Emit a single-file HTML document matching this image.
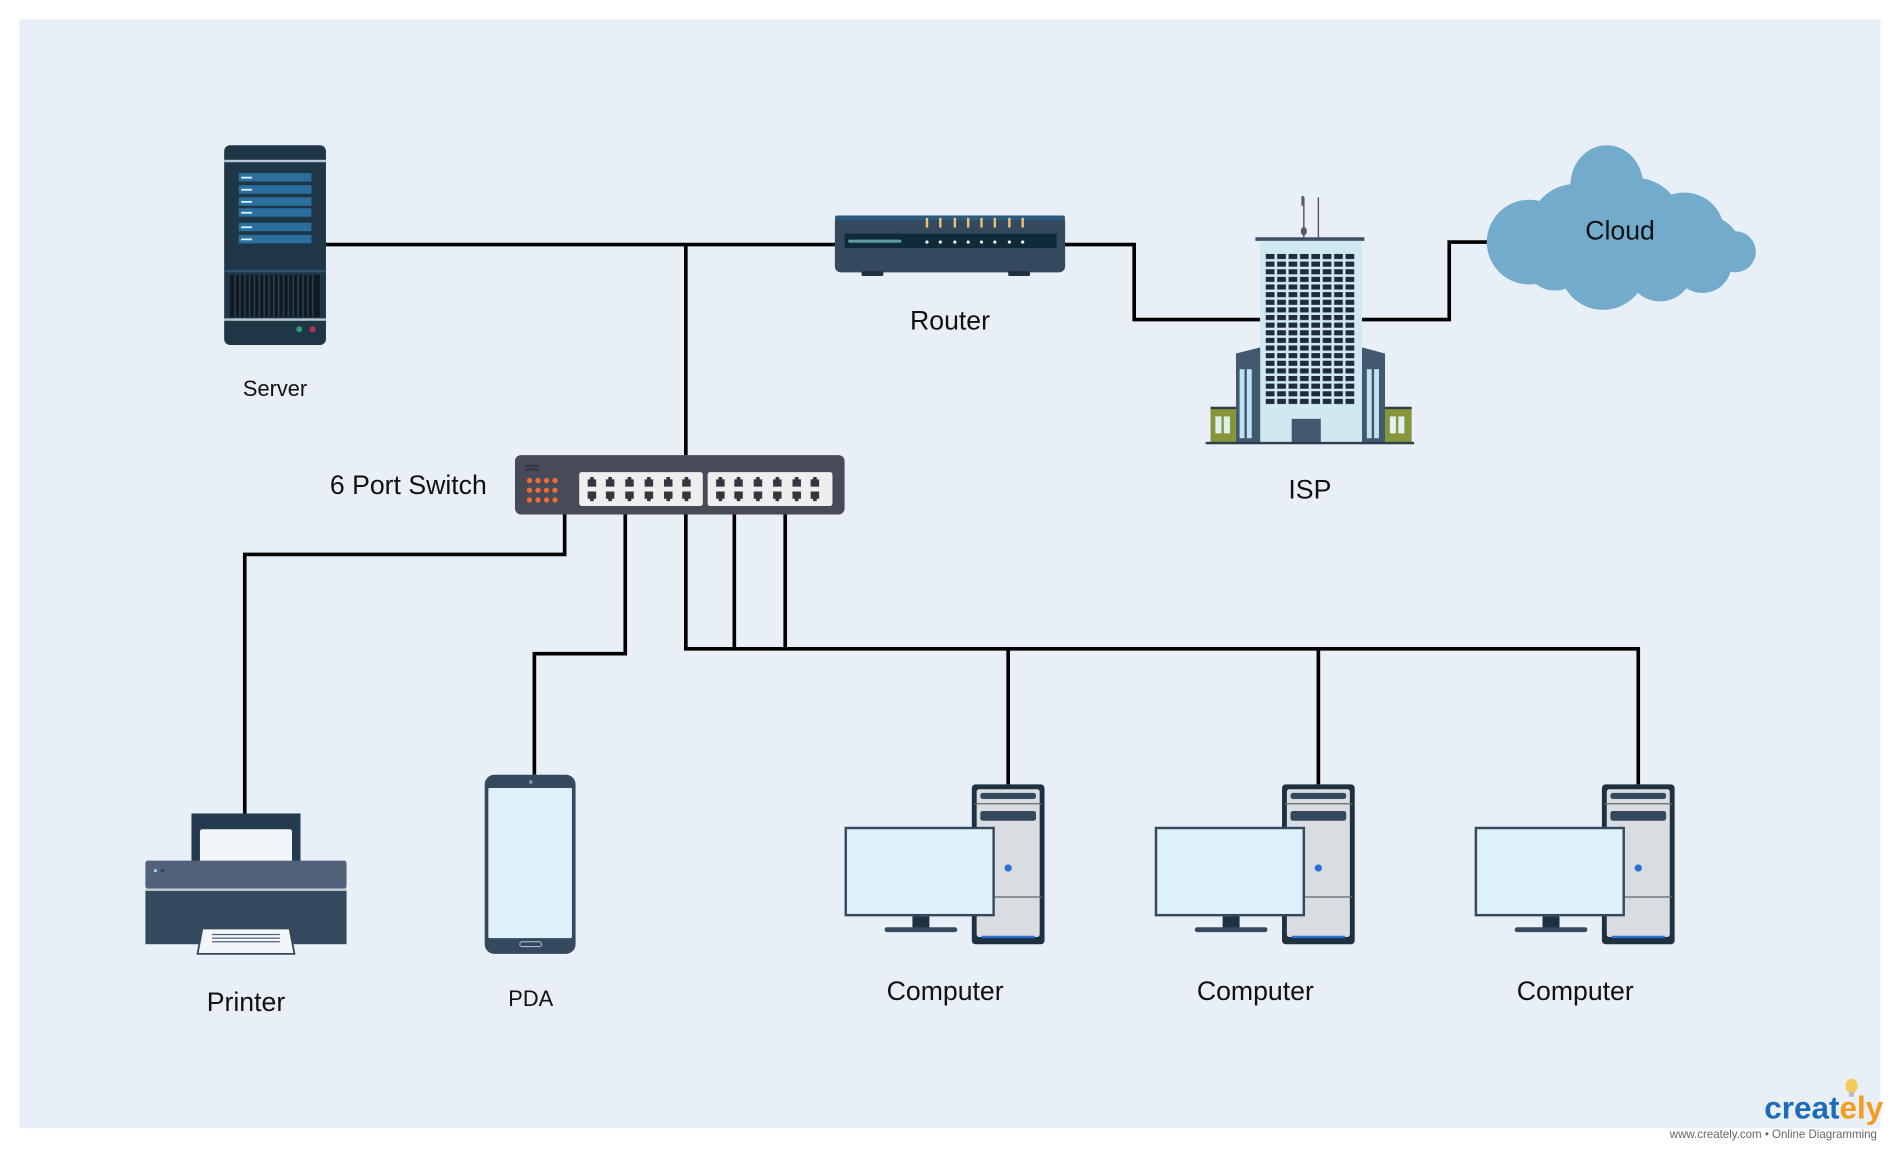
<!DOCTYPE html>
<html><head><meta charset="utf-8"><style>
html,body{margin:0;padding:0;background:#fff;width:1900px;height:1150px;overflow:hidden}
svg{display:block}
text{font-family:"Liberation Sans",sans-serif;fill:#111}
</style></head><body>
<svg width="1900" height="1150" viewBox="0 0 1568 950" preserveAspectRatio="none" xmlns="http://www.w3.org/2000/svg">
<defs>
<pattern id="win" x="1044" y="209" width="9.4" height="6.3" patternUnits="userSpaceOnUse">
<rect x="0.6" y="0.8" width="7.2" height="4.2" fill="#1f2a3a"/>
</pattern>
<g id="pc">
  <rect x="802" y="648" width="60" height="132" rx="3" fill="#1f3040"/>
  <rect x="806" y="652" width="52" height="122" rx="2" fill="#d9dde1"/>
  <rect x="809" y="655" width="46" height="5" rx="2" fill="#34495e"/>
  <line x1="804" y1="664" x2="860" y2="664" stroke="#5a6b6b" stroke-width="1"/>
  <rect x="809" y="670" width="46" height="8" rx="2" fill="#34495e"/>
  <line x1="804" y1="741" x2="860" y2="741" stroke="#5a6b6b" stroke-width="1"/>
  <circle cx="832" cy="717" r="3" fill="#2a6fd6"/>
  <rect x="810" y="773" width="44" height="2" fill="#2a6fd6"/>
  <rect x="697" y="683" width="124" height="74" fill="#34495e"/>
  <rect x="699" y="685" width="120" height="70" fill="#dff0f8"/>
  <rect x="753" y="757" width="14" height="10" fill="#1f3040"/>
  <rect x="730" y="766" width="60" height="4" rx="2" fill="#34495e"/>
</g>
</defs>
<rect x="16" y="16" width="1536" height="916" fill="#e8eff7"/>

<g stroke="#000" stroke-width="3" fill="none">
<polyline points="268,202 690,202"/>
<polyline points="566,202 566,376"/>
<polyline points="878,202 936,202 936,264 1040,264"/>
<polyline points="1124,264 1196,264 1196,200 1228,200"/>
<polyline points="466,425 466,458 202,458 202,672"/>
<polyline points="516,425 516,540 441,540 441,640"/>
<polyline points="566,425 566,536 1352,536 1352,648"/>
<polyline points="606,425 606,536"/>
<polyline points="648,425 648,536"/>
<polyline points="832,536 832,648"/>
<polyline points="1088,536 1088,648"/>
</g>

<rect x="185" y="120" width="84" height="165" rx="5" fill="#1f3646"/>
<rect x="185" y="132" width="84" height="2" fill="#b9c8d4"/>
<g fill="#2a6f9e">
<rect x="197" y="143" width="60" height="7"/><rect x="197" y="153" width="60" height="7"/>
<rect x="197" y="163" width="60" height="7"/><rect x="197" y="172" width="60" height="7"/>
<rect x="197" y="184" width="60" height="7"/><rect x="197" y="194" width="60" height="7"/>
</g>
<g fill="#ddeeff">
<rect x="199" y="146" width="9" height="1.5"/><rect x="199" y="156" width="9" height="1.5"/>
<rect x="199" y="166" width="9" height="1.5"/><rect x="199" y="175" width="9" height="1.5"/>
<rect x="199" y="187" width="9" height="1.5"/><rect x="199" y="197" width="9" height="1.5"/>
</g>
<rect x="185" y="223" width="84" height="2" fill="#2a5470"/>
<rect x="190" y="227" width="74" height="35" fill="#0f1a22"/>
<g stroke="#2c3e50" stroke-width="1.3">
<path d="M194,227v35M198,227v35M202,227v35M206,227v35M210,227v35M214,227v35M218,227v35M222,227v35M226,227v35M230,227v35M234,227v35M238,227v35M242,227v35M246,227v35M250,227v35M254,227v35M258,227v35"/>
</g>
<rect x="185" y="263" width="84" height="2" fill="#b9c8d4"/>
<circle cx="247" cy="272" r="2.5" fill="#2e9e6a"/><circle cx="258" cy="272" r="2.5" fill="#b8324e"/>
<text x="227" y="327" font-size="18" text-anchor="middle">Server</text>

<rect x="689" y="178" width="190" height="47" rx="5" fill="#34495e"/>
<rect x="689" y="178" width="190" height="4" rx="2" fill="#2a5a80"/>
<rect x="697" y="193" width="175" height="12" fill="#0f2a38"/>
<rect x="700" y="198" width="44" height="2.5" rx="1" fill="#5e9aa6"/>
<g fill="#fff"><circle cx="765" cy="200" r="1.3"/><circle cx="776" cy="200" r="1.3"/><circle cx="788" cy="200" r="1.3"/><circle cx="799" cy="200" r="1.3"/><circle cx="810" cy="200" r="1.3"/><circle cx="821" cy="200" r="1.3"/><circle cx="833" cy="200" r="1.3"/><circle cx="844" cy="200" r="1.3"/></g>
<g fill="#f0c07a"><rect x="764" y="180" width="2" height="8"/><rect x="775" y="180" width="2" height="8"/><rect x="787" y="180" width="2" height="8"/><rect x="798" y="180" width="2" height="8"/><rect x="809" y="180" width="2" height="8"/><rect x="820" y="180" width="2" height="8"/><rect x="832" y="180" width="2" height="8"/><rect x="843" y="180" width="2" height="8"/></g>
<rect x="711" y="224" width="18" height="4" rx="1" fill="#1f3040"/><rect x="832" y="224" width="18" height="4" rx="1" fill="#1f3040"/>
<text x="784" y="272" font-size="22" text-anchor="middle">Router</text>

<line x1="1076" y1="163" x2="1076" y2="198" stroke="#555a66" stroke-width="1.2"/>
<line x1="1088" y1="163" x2="1088" y2="198" stroke="#555a66" stroke-width="1.2"/>
<ellipse cx="1076" cy="191" rx="2.5" ry="3.5" fill="#555a66"/>
<rect x="1074" y="162" width="2" height="8" fill="#555a66"/>
<rect x="1036" y="196" width="90" height="3" fill="#3f5068"/>
<rect x="1040" y="199" width="84" height="167" fill="#cfe9f0"/>
<rect x="1044" y="209" width="75" height="126" fill="url(#win)"/>
<rect x="1066" y="346" width="24" height="20" fill="#43596f"/>
<polygon points="1020,292 1040,287 1040,366 1020,366" fill="#43596f"/>
<polygon points="1124,287 1143,292 1143,366 1124,366" fill="#43596f"/>
<rect x="1023" y="305" width="4" height="57" fill="#bfe4f4"/><rect x="1029" y="305" width="4" height="57" fill="#bfe4f4"/>
<rect x="1128" y="305" width="4" height="57" fill="#bfe4f4"/><rect x="1134" y="305" width="4" height="57" fill="#bfe4f4"/>
<rect x="999" y="337" width="21" height="29" fill="#87963a"/><rect x="1143" y="337" width="22" height="29" fill="#87963a"/>
<rect x="999" y="336" width="21" height="2" fill="#2c3e50"/><rect x="1143" y="336" width="22" height="2" fill="#2c3e50"/>
<rect x="1003" y="344" width="5" height="14" fill="#dff0f0"/><rect x="1010" y="344" width="5" height="14" fill="#dff0f0"/>
<rect x="1147" y="344" width="5" height="14" fill="#dff0f0"/><rect x="1154" y="344" width="5" height="14" fill="#dff0f0"/>
<rect x="995" y="365" width="172" height="2" fill="#2c3e50"/>
<text x="1081" y="412" font-size="22" text-anchor="middle">ISP</text>

<g fill="#73abcc">
<ellipse cx="1326" cy="153" rx="30" ry="33"/>
<circle cx="1300" cy="190" r="38"/>
<circle cx="1350" cy="185" r="38"/>
<circle cx="1390" cy="192" r="33"/>
<circle cx="1410" cy="205" r="26"/>
<circle cx="1432" cy="208" r="17"/>
<circle cx="1262" cy="200" r="35"/>
<circle cx="1283" cy="215" r="25"/>
<circle cx="1323" cy="220" r="36"/>
<circle cx="1370" cy="222" r="27"/>
<circle cx="1405" cy="218" r="24"/>
</g>
<text x="1337" y="198" font-size="22" text-anchor="middle">Cloud</text>

<rect x="425" y="376" width="272" height="49" rx="5" fill="#474a57"/>
<rect x="433" y="384" width="12" height="1.5" fill="#33363f"/><rect x="433" y="387" width="12" height="1.5" fill="#33363f"/>
<g fill="#ef6a34">
<circle cx="437" cy="397" r="2.2"/><circle cx="444" cy="397" r="2.2"/><circle cx="451" cy="397" r="2.2"/><circle cx="458" cy="397" r="2.2"/>
<circle cx="437" cy="405" r="2.2"/><circle cx="444" cy="405" r="2.2"/><circle cx="451" cy="405" r="2.2"/><circle cx="458" cy="405" r="2.2"/>
<circle cx="437" cy="413" r="2.2"/><circle cx="444" cy="413" r="2.2"/><circle cx="451" cy="413" r="2.2"/><circle cx="458" cy="413" r="2.2"/>
</g>
<rect x="478" y="390" width="102" height="28" rx="2" fill="#eeeeee"/>
<rect x="584" y="390" width="103" height="28" rx="2" fill="#eeeeee"/>
<g fill="#33363f" id="ports">
<path d="M485,396h7v6h-7zM487,394h3v2h-3z"/><path d="M485,406h7v6h-7zM487,412h3v2h-3z"/>
<path d="M500,396h7v6h-7zM502,394h3v2h-3z"/><path d="M500,406h7v6h-7zM502,412h3v2h-3z"/>
<path d="M516,396h7v6h-7zM518,394h3v2h-3z"/><path d="M516,406h7v6h-7zM518,412h3v2h-3z"/>
<path d="M532,396h7v6h-7zM534,394h3v2h-3z"/><path d="M532,406h7v6h-7zM534,412h3v2h-3z"/>
<path d="M548,396h7v6h-7zM550,394h3v2h-3z"/><path d="M548,406h7v6h-7zM550,412h3v2h-3z"/>
<path d="M563,396h7v6h-7zM565,394h3v2h-3z"/><path d="M563,406h7v6h-7zM565,412h3v2h-3z"/>
</g>
<use href="#ports" transform="translate(106,0)"/>
<text x="337" y="408" font-size="22" text-anchor="middle">6 Port Switch</text>

<rect x="158" y="672" width="90" height="42" fill="#233a4f"/>
<rect x="165" y="685" width="76" height="30" rx="2" fill="#f2f6f9"/>
<rect x="120" y="711" width="166" height="23" rx="2" fill="#52607a"/>
<rect x="120" y="734" width="166" height="2" fill="#c0c8d0"/>
<rect x="120" y="736" width="166" height="44" fill="#34495e"/>
<rect x="127" y="718" width="2.5" height="2.5" fill="#8fd0f0"/><rect x="133" y="718" width="2" height="2" fill="#233a4f"/>
<polygon points="167,767 239,767 243,788 163,788" fill="#f2f6f9" stroke="#34495e" stroke-width="1.5"/>
<g stroke="#52607a" stroke-width="1"><path d="M175,772h56M175,775h56M175,778h56"/></g>
<text x="203" y="835" font-size="22" text-anchor="middle">Printer</text>

<rect x="400" y="640" width="75" height="148" rx="8" fill="#34495e"/>
<rect x="403" y="651" width="69" height="124" rx="1" fill="#dff0f8"/>
<circle cx="438" cy="646" r="1.5" fill="#6fa0b0"/>
<rect x="429" y="778" width="18" height="4" rx="2" fill="none" stroke="#b8c8d8" stroke-width="0.8"/>
<text x="438" y="831" font-size="18" text-anchor="middle">PDA</text>

<use href="#pc"/>
<use href="#pc" transform="translate(256,0)"/>
<use href="#pc" transform="translate(520,0)"/>
<text x="780" y="826" font-size="22" text-anchor="middle">Computer</text>
<text x="1036" y="826" font-size="22" text-anchor="middle">Computer</text>
<text x="1300" y="826" font-size="22" text-anchor="middle">Computer</text>

<ellipse cx="1528" cy="897" rx="5" ry="6" fill="#f5c95a"/>
<rect x="1526" y="902" width="4" height="4" fill="#bbb"/>
<text x="1456" y="924" font-size="26" style="fill:#1e6cb8;font-weight:bold">creat<tspan style="fill:#f39c1e">ely</tspan></text>
<text x="1378" y="940" font-size="9.5" style="fill:#666">www.creately.com • Online Diagramming</text>
</svg>
</body></html>
